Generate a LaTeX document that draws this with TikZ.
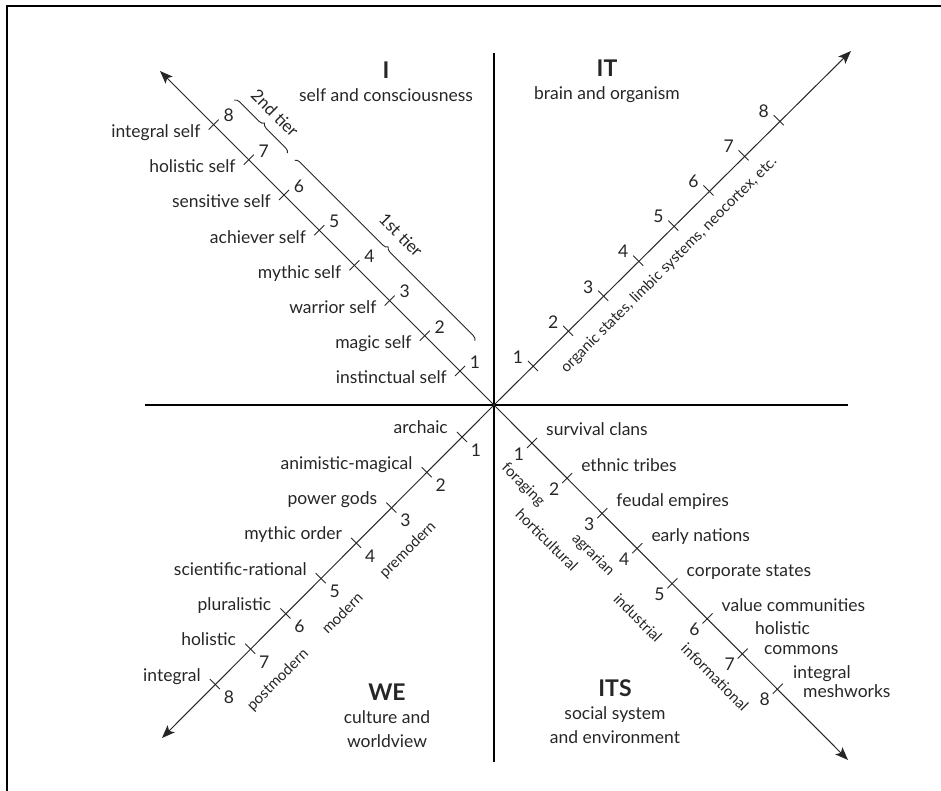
\documentclass[tikz,border=0pt]{standalone}
\usepackage{fontspec}
\setmainfont{Lato}
\usepackage{tikz}
\usetikzlibrary{arrows.meta, positioning, decorations.pathreplacing, calc}

\begin{document}
\begin{tikzpicture}[
    x=1pt, y=1pt,
    every node/.style={font=\fontsize{17.5}{20}\selectfont, text=black!85, inner sep=0pt},
    quad/.style={font=\fontsize{23}{26}\selectfont\bfseries},
    sub/.style={align=center, font=\fontsize{17.5}{24}\selectfont},
    lbl/.style={},
    num/.style={},
    era/.style={font=\fontsize{15}{17}\selectfont},
    frame/.style={line width=1.6pt, draw=black},
    axis/.style={line width=2.2pt, draw=black},
    diag/.style={-{Stealth[length=13pt, width=10pt, inset=3pt]}, line width=1pt, draw=black!85},
    tickmark/.style={line width=0.9pt, draw=black!85},
    tierbrace/.style={decorate, decoration={brace, amplitude=5pt}, line width=0.9pt, draw=black!85}
]
    \useasboundingbox (-494,-386) rectangle (447,405);
    \draw[frame] (-487,-386) -- (-487,399) -- (447,399);

    \coordinate (o) at (0,0);
    \coordinate (top) at (0,352);
    \coordinate (bot) at (0,-357);
    \coordinate (lft) at (-349,0);
    \coordinate (rgt) at (354,0);
    \draw[axis] (top) -- (bot);
    \draw[axis] (lft) -- (rgt);

    \coordinate (ul) at (-334,334);
    \coordinate (ur) at (357,354);
    \coordinate (ll) at (-332,-333);
    \coordinate (lr) at (354,-355);
    \draw[diag] (o) -- (ul);
    \draw[diag] (o) -- (ur);
    \draw[diag] (o) -- (ll);
    \draw[diag] (o) -- (lr);

    \node[quad] (tI) at (-108,335) {I};
    \node[sub, below=10pt of tI] (sI) {self and consciousness};
    \node[quad] (tIT) at (113,337) {IT};
    \node[sub, below=10pt of tIT] (sIT) {brain and organism};
    \node[quad] (tWE) at (-107,-287) {WE};
    \node[sub, below=10pt of tWE] (sWE) {culture and\\worldview};
    \node[quad] (tITS) at (121,-283) {ITS};
    \node[sub, below=10pt of tITS] (sITS) {social system\\and environment};

    \foreach \k/\txt in {1/instinctual self, 2/magic self, 3/warrior self, 4/mythic self, 5/achiever self, 6/sensitive self, 7/holistic self, 8/integral self}{
        \pgfmathsetmacro\d{34+(\k-1)*35.2}
        \coordinate (i\k) at (-\d,\d);
        \draw[tickmark] ($(i\k)+(-5,-5)$) -- ($(i\k)+(5,5)$);
        \node[num] (ni\k) at ($(i\k)+(15,9)$) {\k};
        \node[lbl, anchor=base east] (li\k) at ($(i\k)+(-13,-13)$) {\txt};
    }

    \foreach \k in {1,...,8}{
        \pgfmathsetmacro\d{39+(\k-1)*35.1}
        \coordinate (it\k) at (\d,\d);
        \draw[tickmark] ($(it\k)+(-5,5)$) -- ($(it\k)+(5,-5)$);
        \node[num] (nit\k) at ($(it\k)+(-15,9)$) {\k};
    }
    \node[era, rotate=45] (organ) at (175,140) {organic states, limbic systems, neocortex, etc.};

    \foreach \k/\txt in {1/archaic, 2/animistic-magical, 3/power gods, 4/mythic order, 5/scientific-rational, 6/pluralistic, 7/holistic, 8/integral}{
        \pgfmathsetmacro\d{32+(\k-1)*35.3}
        \coordinate (we\k) at (-\d,-\d);
        \draw[tickmark] ($(we\k)+(-5,5)$) -- ($(we\k)+(5,-5)$);
        \node[num] (nwe\k) at ($(we\k)+(14,-13)$) {\k};
        \node[lbl, anchor=base east] (lwe\k) at ($(we\k)+(-14,3)$) {\txt};
    }
    \node[era, rotate=45] (premod) at (-86,-145) {premodern};
    \node[era, rotate=45] (mod) at (-152,-208) {modern};
    \node[era, rotate=45] (postmod) at (-216,-275) {postmodern};

    \foreach \k/\txt in {1/survival clans, 2/ethnic tribes, 3/feudal empires, 4/early nations, 5/corporate states, 6/value communities}{
        \pgfmathsetmacro\d{38+(\k-1)*35.1}
        \coordinate (its\k) at (\d,-\d);
        \draw[tickmark] ($(its\k)+(-5,-5)$) -- ($(its\k)+(5,5)$);
        \node[num] (nits\k) at ($(its\k)+(-13,-11)$) {\k};
        \node[lbl, anchor=base west] (lits\k) at ($(its\k)+(14,7)$) {\txt};
    }
    \foreach \k in {7,8}{
        \pgfmathsetmacro\d{38+(\k-1)*35.1}
        \coordinate (its\k) at (\d,-\d);
        \draw[tickmark] ($(its\k)+(-5,-5)$) -- ($(its\k)+(5,5)$);
        \node[num] (nits\k) at ($(its\k)+(-13,-11)$) {\k};
    }
    \node[lbl, align=left, anchor=base west] (lits7) at (261,-249) {holistic\\\hspace*{9pt}commons};
    \node[lbl, align=left, anchor=base west, font=\fontsize{17.5}{19}\selectfont] (lits8) at (299,-292) {integral\\\hspace*{10pt}meshworks};
    \node[era, rotate=-45] (forag) at (29,-80) {foraging};
    \node[era, rotate=-45] (horti) at (53,-135) {horticultural};
    \node[era, rotate=-45] (agrar) at (99,-150) {agrarian};
    \node[era, rotate=-45] (indus) at (144,-213) {industrial};
    \node[era, rotate=-45] (infor) at (221,-272) {informational};

    \coordinate (b2s) at (-259.5,304.8);
    \coordinate (b2e) at (-206.5,251.7);
    \coordinate (b1s) at (-199.4,244.7);
    \coordinate (b1e) at (-19.1,64.3);
    \draw[tierbrace] (b2s) -- (b2e);
    \draw[tierbrace] (b1s) -- (b1e);
    \node[era, rotate=-45, font=\fontsize{17}{19}\selectfont] (tier2) at (-219,292) {2nd tier};
    \node[era, rotate=-45, font=\fontsize{17}{19}\selectfont] (tier1) at (-93,170) {1st tier};
\end{tikzpicture}
\end{document}
